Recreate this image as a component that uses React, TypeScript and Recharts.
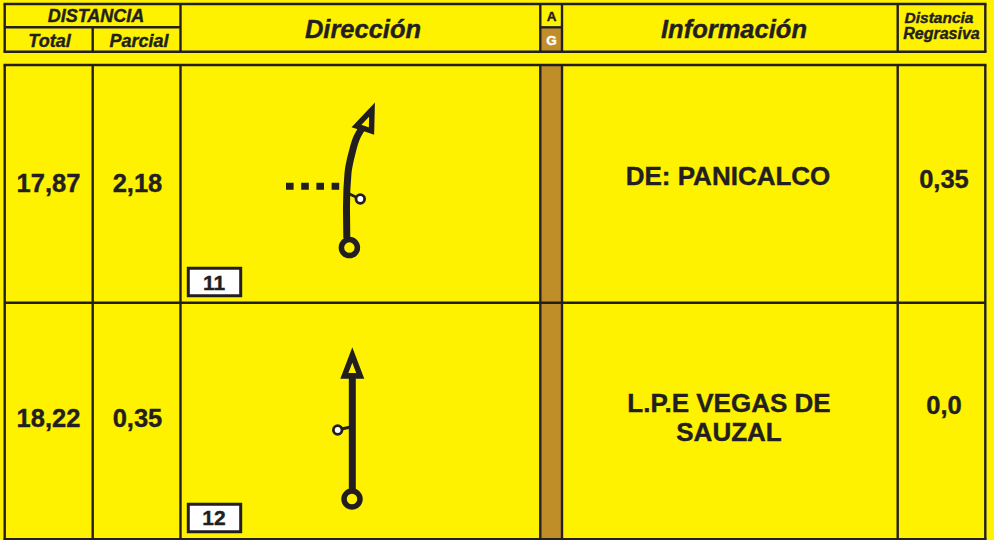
import { LineChart, Line, XAxis, YAxis, ReferenceArea, ReferenceLine, ReferenceDot } from "recharts";

const totals = ["17,87", "18,22"];
const partials = ["2,18", "0,35"];
const countdown = ["0,35", "0,0"];
const stepNumbers = ["11", "12"];
const infoRow1 = ["DE: PANICALCO"];
const infoRow2 = ["L.P.E VEGAS DE", "SAUZAL"];

const route1 = [
  { x: 362.7, y: 127 },
  { x: 357, y: 137 },
  { x: 352, y: 153 },
  { x: 348, y: 173 },
  { x: 346.5, y: 206 },
  { x: 346.8, y: 238 },
];
const head1 = [
  { x: 364, y: 128.5 },
  { x: 371.5, y: 131 },
  { x: 372, y: 109.5 },
  { x: 356.5, y: 126 },
  { x: 364, y: 128.5 },
];
const crossing1 = [
  { x: 286, y: 186.2 },
  { x: 339.2, y: 186.2 },
];
const sideRoad1 = [
  { x: 349.5, y: 194 },
  { x: 357, y: 197.5 },
];
const route2 = [
  { x: 352.3, y: 373 },
  { x: 352.3, y: 490 },
];
const head2 = [
  { x: 352.3, y: 376 },
  { x: 344.3, y: 376 },
  { x: 352.3, y: 355 },
  { x: 360.3, y: 376 },
  { x: 352.3, y: 376 },
];
const sideRoad2 = [
  { x: 341, y: 429 },
  { x: 350, y: 427.3 },
];

const YELLOW = "#fff200";
const BROWN = "#bf8e29";
const INK = "#231f20";
const FONT = "'Liberation Sans', Arial, sans-serif";

// table rules
const vRules = [
  { x: 4.7, y1: 4, y2: 51.7 },
  { x: 180.5, y1: 4, y2: 51.7 },
  { x: 540.3, y1: 4, y2: 51.7 },
  { x: 562, y1: 4, y2: 51.7 },
  { x: 897.7, y1: 4, y2: 51.7 },
  { x: 985.3, y1: 4, y2: 51.7 },
  { x: 92.7, y1: 27.3, y2: 51.7 },
  { x: 4.7, y1: 65, y2: 539.5 },
  { x: 92.7, y1: 65, y2: 539.5 },
  { x: 180.5, y1: 65, y2: 539.5 },
  { x: 540.3, y1: 65, y2: 539.5 },
  { x: 562, y1: 65, y2: 539.5 },
  { x: 897.7, y1: 65, y2: 539.5 },
  { x: 985.3, y1: 65, y2: 539.5 },
];
const hRules = [
  { y: 4, x1: 3.5, x2: 986.5 },
  { y: 27.3, x1: 4.7, x2: 180.5 },
  { y: 27.3, x1: 540.3, x2: 562 },
  { y: 51.7, x1: 3.5, x2: 986.5 },
  { y: 65, x1: 3.5, x2: 986.5 },
  { y: 302.8, x1: 4.7, x2: 985.3 },
  { y: 539.3, x1: 3.5, x2: 986.5 },
];

const headerItalic = { fontWeight: 700, fontStyle: "italic" };
const cellBold = { fontWeight: 700 };

const texts = [
  { text: "DISTANCIA", x: 96, y: 16, size: 18, ...headerItalic },
  { text: "Total", x: 49.5, y: 40.5, size: 18, ...headerItalic },
  { text: "Parcial", x: 139, y: 40.5, size: 18, ...headerItalic },
  { text: "Dirección", x: 363, y: 29, size: 25.5, ...headerItalic },
  { text: "A", x: 551.5, y: 16, size: 13.5, ...cellBold },
  { text: "G", x: 551.5, y: 40.5, size: 13.5, color: "#ffffff", ...cellBold },
  { text: "Información", x: 734, y: 29, size: 25.5, ...headerItalic },
  { text: "Distancia", x: 939, y: 17.5, size: 15.5, ...headerItalic },
  { text: "Regrasiva", x: 941.5, y: 33.5, size: 16, ...headerItalic },
  { text: totals[0], x: 48.5, y: 183, size: 25.5, ...cellBold },
  { text: partials[0], x: 137.5, y: 183, size: 25.5, ...cellBold },
  { text: infoRow1[0], x: 728, y: 175.5, size: 26, ...cellBold },
  { text: countdown[0], x: 944, y: 179, size: 25.5, ...cellBold },
  { text: stepNumbers[0], x: 214, y: 283, size: 21, ...cellBold },
  { text: totals[1], x: 48.5, y: 418, size: 25.5, ...cellBold },
  { text: partials[1], x: 137.5, y: 418, size: 25.5, ...cellBold },
  { text: infoRow2[0], x: 729, y: 403, size: 26, ...cellBold },
  { text: infoRow2[1], x: 729, y: 432, size: 26, ...cellBold },
  { text: countdown[1], x: 944, y: 405, size: 25.5, ...cellBold },
  { text: stepNumbers[1], x: 214, y: 518, size: 21, ...cellBold },
];

const lineBase = { dataKey: "y", dot: false, activeDot: false, isAnimationActive: false, stroke: INK } as const;

export default function App() {
  return (
    <div style={{ position: "fixed", left: 0, top: 0, width: 994, height: 540, background: YELLOW }}>
      <LineChart width={994} height={540} margin={{ top: 0, right: 0, bottom: 0, left: 0 }}>
        <XAxis hide type="number" dataKey="x" domain={[0, 994]} />
        <YAxis hide type="number" dataKey="y" domain={[0, 540]} reversed />

        <ReferenceArea x1={540} x2={562} y1={28} y2={52} fill={BROWN} fillOpacity={1} stroke="none" />
        <ReferenceArea x1={540} x2={562} y1={65} y2={540} fill={BROWN} fillOpacity={1} stroke="none" />

        {vRules.map((r, i) => (
          <ReferenceLine
            key={"v" + i}
            segment={[{ x: r.x, y: r.y1 }, { x: r.x, y: r.y2 }]}
            stroke={INK}
            strokeWidth={2.4}
          />
        ))}
        {hRules.map((r, i) => (
          <ReferenceLine
            key={"h" + i}
            segment={[{ x: r.x1, y: r.y }, { x: r.x2, y: r.y }]}
            stroke={INK}
            strokeWidth={2.4}
          />
        ))}

        <ReferenceArea x1={188.3} x2={240.7} y1={268.3} y2={295.7} fill="#ffffff" fillOpacity={1} stroke={INK} strokeWidth={3} />
        <ReferenceArea x1={188.3} x2={240.7} y1={504.2} y2={531.8} fill="#ffffff" fillOpacity={1} stroke={INK} strokeWidth={3} />

        <Line {...lineBase} data={route1} type="monotoneY" strokeWidth={7} />
        <Line {...lineBase} data={head1} type="linear" strokeWidth={5.5} strokeLinejoin="miter" strokeMiterlimit={10} />
        <Line {...lineBase} data={crossing1} type="linear" strokeWidth={7} strokeDasharray="7.6 7.6" />
        <Line {...lineBase} data={sideRoad1} type="linear" strokeWidth={3} />
        <Line {...lineBase} data={route2} type="linear" strokeWidth={7} />
        <Line {...lineBase} data={head2} type="linear" strokeWidth={5.5} strokeLinejoin="miter" strokeMiterlimit={10} />
        <Line {...lineBase} data={sideRoad2} type="linear" strokeWidth={3} />

        <ReferenceDot x={349.4} y={247.6} r={8} fill={YELLOW} stroke={INK} strokeWidth={5.5} />
        <ReferenceDot x={360.3} y={199} r={4.3} fill="#ffffff" stroke={INK} strokeWidth={2.8} />
        <ReferenceDot x={352} y={499} r={8} fill={YELLOW} stroke={INK} strokeWidth={5.5} />
        <ReferenceDot x={337.7} y={430} r={4.3} fill="#ffffff" stroke={INK} strokeWidth={2.8} />

        {texts.map((t, i) => (
          <ReferenceDot
            key={"t" + i}
            x={t.x}
            y={t.y}
            r={0}
            fill="none"
            stroke="none"
            label={{
              value: t.text,
              position: "center",
              fontSize: t.size,
              fontWeight: t.fontWeight,
              fontStyle: t.fontStyle,
              fontFamily: FONT,
              fill: t.color || INK,
              stroke: t.color || INK,
              strokeWidth: 0.4,
            }}
          />
        ))}
      </LineChart>
    </div>
  );
}
